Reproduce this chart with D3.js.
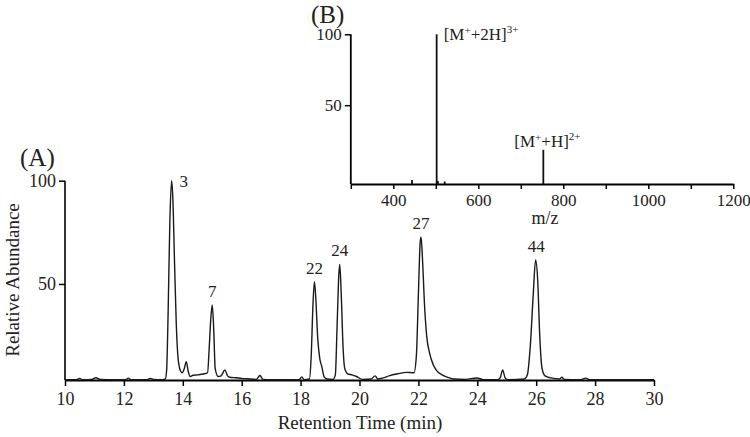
<!DOCTYPE html>
<meta charset="utf-8">
<style>
body { margin: 0; background: #fff; }
svg text { font-family: "Liberation Serif", "Times New Roman", serif; fill: #222; }
.axis path, .axis line { stroke: #000; }
</style>
<svg width="750" height="437"></svg>
<script src="https://d3js.org/d3.v7.min.js"></script>
<script>

// chromatogram (A): retention time (min) and relative abundance
var rtTime = [10, 10.4, 10.5, 10.6, 10.9, 11.05, 11.2, 11.6, 12.05, 12.15, 12.25, 12.8, 12.9, 13.0, 13.3, 13.4,
  13.45, 13.5, 13.56, 13.62, 13.66, 13.72, 13.78, 13.84, 13.92, 13.98, 14.05, 14.12, 14.18, 14.25, 14.35, 14.5,
  14.7, 14.84, 14.9, 14.95, 15.0, 15.05, 15.1, 15.2, 15.3, 15.43, 15.52, 15.6, 15.8, 16.0, 16.2, 16.5, 16.62,
  16.72, 17.0, 17.5, 17.95, 18.04, 18.12, 18.3, 18.36, 18.42, 18.47, 18.52, 18.58, 18.65, 18.72, 18.8, 18.9,
  19.1, 19.18, 19.24, 19.3, 19.33, 19.38, 19.44, 19.5, 19.6, 19.75, 19.9, 20.1, 20.4, 20.53, 20.62, 20.8,
  21.0, 21.3, 21.6, 21.85, 21.93, 22.0, 22.06, 22.09, 22.14, 22.2, 22.28, 22.38, 22.5, 22.62, 22.8, 23.0,
  23.2, 23.6, 23.98, 24.2, 24.7, 24.78, 24.86, 24.95, 25.05, 25.6, 25.7, 25.8, 25.9, 25.98, 26.05, 26.12,
  26.2, 26.3, 26.5, 26.8, 26.87, 26.95, 27.5, 27.69, 27.8, 28.5, 29.2, 30];
var rtAbund = [3.6, 3.7, 4.3, 3.7, 3.8, 4.6, 3.8, 3.6, 3.6, 4.4, 3.6, 3.7, 4.3, 3.8, 3.7, 3.9,
  8, 35, 80, 100, 92, 60, 30, 14, 8, 7, 9, 12.4, 8, 5.2, 5.8, 6,
  6.4, 7, 20, 33, 39.8, 28, 9, 5.2, 5.5, 8.4, 5.5, 4.8, 4.6, 4.3, 4.1, 3.8, 5.7,
  3.8, 3.6, 3.6, 3.7, 5, 3.7, 4, 15, 40, 51.1, 42, 24, 14, 10, 5, 4,
  3.8, 6, 30, 55, 59.5, 45, 20, 9, 6.5, 6, 5.2, 3.8, 4, 5.5, 4, 4.5,
  5.5, 6.5, 7.2, 7, 15, 45, 70, 72.6, 62, 42, 25, 16.5, 11, 8, 6, 4.8,
  4, 3.8, 4.5, 3.7, 3.7, 4.6, 8.4, 4.4, 3.7, 4, 6, 20, 45, 61.6, 52, 25,
  9, 5.5, 4.5, 4, 4.8, 3.8, 3.7, 4.4, 3.7, 3.6, 3.6, 3.6];

// labelled peaks in (A)
var peakTime = [13.62, 15.0, 18.47, 19.33, 22.09, 26.0];
var peakHeight = [100, 39.8, 51.1, 59.5, 72.6, 61.6];
var peakLabel = ["3", "7", "22", "24", "27", "44"];

var rtTicks = [10, 12, 14, 16, 18, 20, 22, 24, 26, 28, 30];
var abundTicks = [50, 100];

// mass spectrum (B)
var specMz = [444, 502, 505, 521, 753];
var specInt = [-2.8, 100, -3.5, -3.8, 18.5];
var mzTicks = [300, 400, 500, 600, 700, 800, 900, 1000, 1100, 1200];
var mzLabels = [400, 600, 800, 1000, 1200];
var specIntTicks = [50, 100];

var svg = d3.select("svg");

// ---- panel A ----
var x = d3.scaleLinear().domain([10, 30]).range([65, 654]);
var y = d3.scaleLinear().domain([3.5, 100]).range([380, 180.7]);

var xAxis = svg.append("g")
    .attr("class", "axis")
    .attr("transform", "translate(0,380)")
    .call(d3.axisBottom(x).tickValues(rtTicks).tickSize(6).tickPadding(6).tickSizeOuter(0));
xAxis.select(".domain").attr("stroke-width", 2.2);
xAxis.selectAll(".tick line").attr("stroke-width", 1.5);
xAxis.selectAll("text").attr("font-size", 18);

var yAxis = svg.append("g")
    .attr("class", "axis")
    .attr("transform", "translate(65,0)")
    .call(d3.axisLeft(y).tickValues(abundTicks).tickSize(6).tickPadding(3).tickSizeOuter(0));
yAxis.select(".domain").attr("stroke-width", 1.6).attr("d", "M0," + y(100) + "V380");
yAxis.selectAll(".tick line").attr("stroke-width", 1.5);
yAxis.selectAll("text").attr("font-size", 18);

var trace = rtTime.map((t, i) => [t, rtAbund[i]]);
svg.append("path")
    .datum(trace)
    .attr("fill", "none")
    .attr("stroke", "#1a1a1a")
    .attr("stroke-width", 1.4)
    .attr("stroke-linejoin", "round")
    .attr("d", d3.line().x(d => x(d[0])).y(d => y(d[1])).curve(d3.curveMonotoneX));

svg.selectAll(".peaklabel")
    .data(peakTime)
    .enter().append("text")
    .attr("class", "peaklabel")
    .attr("x", (d, i) => i == 0 ? x(d) + 8 : x(d))
    .attr("y", (d, i) => i == 0 ? y(peakHeight[i]) + 6 : y(peakHeight[i]) - 8)
    .attr("text-anchor", (d, i) => i == 0 ? "start" : "middle")
    .attr("font-size", 17)
    .text((d, i) => peakLabel[i]);

svg.append("text")
    .attr("transform", "translate(19,280) rotate(-90)")
    .attr("text-anchor", "middle")
    .attr("font-size", 19)
    .text("Relative Abundance");

svg.append("text")
    .attr("x", 360).attr("y", 429)
    .attr("text-anchor", "middle")
    .attr("font-size", 19)
    .text("Retention Time (min)");

svg.append("text")
    .attr("x", 20).attr("y", 166)
    .attr("font-size", 25)
    .text("(A)");

// ---- panel B (inset) ----
var xm = d3.scaleLinear().domain([300, 1200]).range([350.8, 733.3]);
var ym = d3.scaleLinear().domain([-5.6, 100]).range([184, 34.3]);

var xmAxis = svg.append("g")
    .attr("class", "axis")
    .attr("transform", "translate(0,184)")
    .call(d3.axisBottom(xm).tickValues(mzTicks).tickSize(5).tickPadding(5).tickSizeOuter(0)
      .tickFormat(d => mzLabels.includes(d) ? d : ""));
xmAxis.select(".domain").attr("stroke-width", 1.8);
xmAxis.selectAll(".tick line").attr("stroke-width", 1.5);
xmAxis.selectAll("text").attr("font-size", 17);

var ymAxis = svg.append("g")
    .attr("class", "axis")
    .attr("transform", "translate(350.8,0)")
    .call(d3.axisLeft(ym).tickValues(specIntTicks).tickSize(6).tickPadding(3).tickSizeOuter(0));
ymAxis.select(".domain").attr("stroke-width", 1.8).attr("d", "M0," + ym(100) + "V184");
ymAxis.selectAll(".tick line").attr("stroke-width", 1.5);
ymAxis.selectAll("text").attr("font-size", 17);

svg.selectAll(".stick")
    .data(specMz)
    .enter().append("line")
    .attr("class", "stick")
    .attr("x1", d => xm(d)).attr("x2", d => xm(d))
    .attr("y1", 184)
    .attr("y2", (d, i) => ym(specInt[i]))
    .attr("stroke", "#111")
    .attr("stroke-width", 1.8);

function ionLabel(xp, yp, sup1, mid, sup2) {
  var t = svg.append("text")
      .attr("x", xp).attr("y", yp)
      .attr("font-size", 17);
  t.append("tspan").text("[M");
  t.append("tspan").attr("font-size", 11).attr("dy", -6).text(sup1);
  t.append("tspan").attr("dy", 6).text(mid);
  t.append("tspan").attr("font-size", 11).attr("dy", -7).text(sup2);
}
ionLabel(xm(502) + 7, 40, "+", "+2H]", "3+");
ionLabel(xm(753) - 29, 147, "+", "+H]", "2+");

svg.append("text")
    .attr("x", 545).attr("y", 224)
    .attr("text-anchor", "middle")
    .attr("font-size", 18)
    .text("m/z");

svg.append("text")
    .attr("x", 311).attr("y", 23)
    .attr("font-size", 25)
    .text("(B)");

</script>
